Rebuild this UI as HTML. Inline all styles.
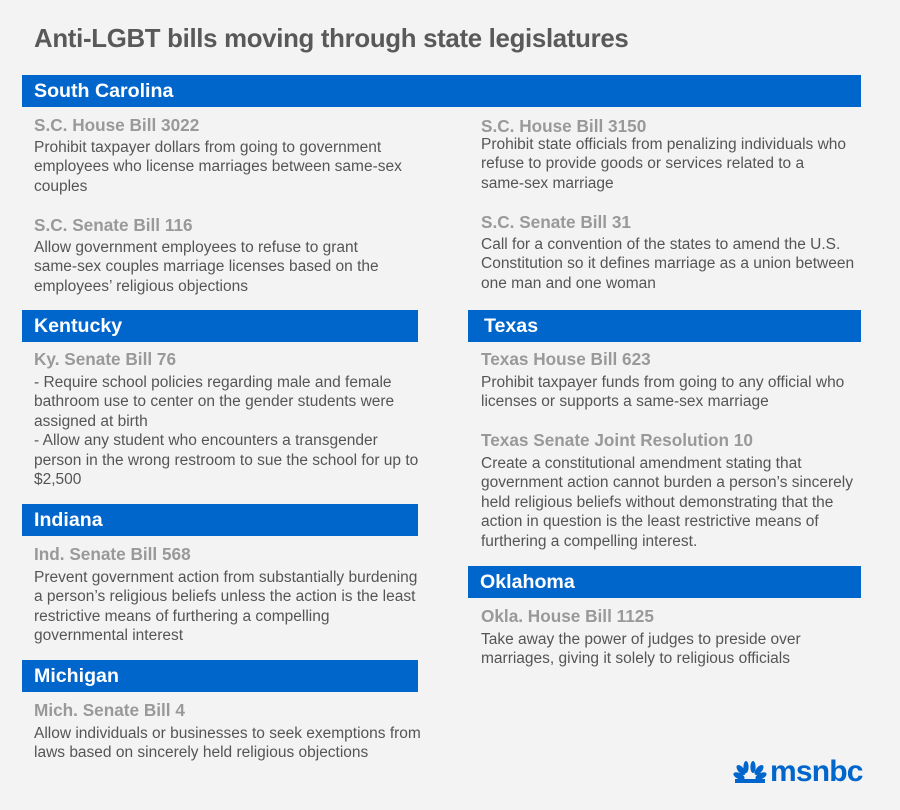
<!DOCTYPE html>
<html><head><meta charset="utf-8"><style>
*{margin:0;padding:0;box-sizing:border-box}
body{width:900px;height:810px;background:#f3f3f3;position:relative;font-family:"Liberation Sans",Arial,sans-serif;overflow:hidden}
.t{position:absolute;left:34px;top:25px;font-size:25.8px;font-weight:bold;color:#595959;letter-spacing:-0.3px}
.bar{position:absolute;height:32px;background:#0066cc;color:#fff;font-weight:bold;font-size:19.6px;line-height:32px;padding-left:12px}
.h{position:absolute;font-weight:bold;font-size:17.2px;color:#999;line-height:20px;white-space:nowrap}
.b{position:absolute;font-size:15.5px;color:#555;line-height:19.4px;white-space:nowrap}
.L{left:34px}.R{left:481px}
</style></head><body>
<div class="t">Anti-LGBT bills moving through state legislatures</div>
<div class="bar" style="left:22px;top:75px;width:839px">South Carolina</div>
<div class="h L" style="top:115px">S.C. House Bill 3022</div>
<div class="b L" style="top:138px">Prohibit taxpayer dollars from going to government<br>employees who license marriages between same-sex<br>couples</div>
<div class="h L" style="top:215px">S.C. Senate Bill 116</div>
<div class="b L" style="top:238px">Allow government employees to refuse to grant<br>same-sex couples marriage licenses based on the<br>employees’ religious objections</div>
<div class="h R" style="top:116px">S.C. House Bill 3150</div>
<div class="b R" style="top:135px">Prohibit state officials from penalizing individuals who<br>refuse to provide goods or services related to a<br>same-sex marriage</div>
<div class="h R" style="top:212px">S.C. Senate Bill 31</div>
<div class="b R" style="top:235px">Call for a convention of the states to amend the U.S.<br>Constitution so it defines marriage as a union between<br>one man and one woman</div>
<div class="bar" style="left:22px;top:310px;width:396px">Kentucky</div>
<div class="h L" style="top:349px">Ky. Senate Bill 76</div>
<div class="b L" style="top:373px">- Require school policies regarding male and female<br>bathroom use to center on the gender students were<br>assigned at birth<br>- Allow any student who encounters a transgender<br>person in the wrong restroom to sue the school for up to<br>$2,500</div>
<div class="bar" style="left:468px;top:310px;width:393px;padding-left:16px">Texas</div>
<div class="h R" style="top:349px">Texas House Bill 623</div>
<div class="b R" style="top:373px">Prohibit taxpayer funds from going to any official who<br>licenses or supports a same-sex marriage</div>
<div class="h R" style="top:430px">Texas Senate Joint Resolution 10</div>
<div class="b R" style="top:454px">Create a constitutional amendment stating that<br>government action cannot burden a person’s sincerely<br>held religious beliefs without demonstrating that the<br>action in question is the least restrictive means of<br>furthering a compelling interest.</div>
<div class="bar" style="left:22px;top:504px;width:396px">Indiana</div>
<div class="h L" style="top:544px">Ind. Senate Bill 568</div>
<div class="b L" style="top:568px">Prevent government action from substantially burdening<br>a person’s religious beliefs unless the action is the least<br>restrictive means of furthering a compelling<br>governmental interest</div>
<div class="bar" style="left:468px;top:566px;width:393px">Oklahoma</div>
<div class="h R" style="top:606px">Okla. House Bill 1125</div>
<div class="b R" style="top:630px">Take away the power of judges to preside over<br>marriages, giving it solely to religious officials</div>
<div class="bar" style="left:22px;top:660px;width:396px">Michigan</div>
<div class="h L" style="top:700px">Mich. Senate Bill 4</div>
<div class="b L" style="top:724px">Allow individuals or businesses to seek exemptions from<br>laws based on sincerely held religious objections</div>
<svg style="position:absolute;left:733px;top:761px" width="34" height="24" viewBox="0 0 34 24">
<g fill="#0066cc">
<ellipse cx="6" cy="15" rx="6" ry="3" transform="rotate(25 6 15)"/>
<ellipse cx="8" cy="9" rx="6" ry="3" transform="rotate(50 8 9)"/>
<ellipse cx="13" cy="6" rx="2.6" ry="6"/>
<ellipse cx="20" cy="6" rx="2.6" ry="6"/>
<ellipse cx="26" cy="9" rx="6" ry="3" transform="rotate(-50 26 9)"/>
<ellipse cx="28" cy="15" rx="6" ry="3" transform="rotate(-25 28 15)"/>
<rect x="2" y="18" width="30" height="4"/>
</g></svg>
<div style="position:absolute;left:770px;top:755px;font-size:30px;font-weight:bold;color:#0066cc;letter-spacing:-0.8px">msnbc</div>
</body></html>
